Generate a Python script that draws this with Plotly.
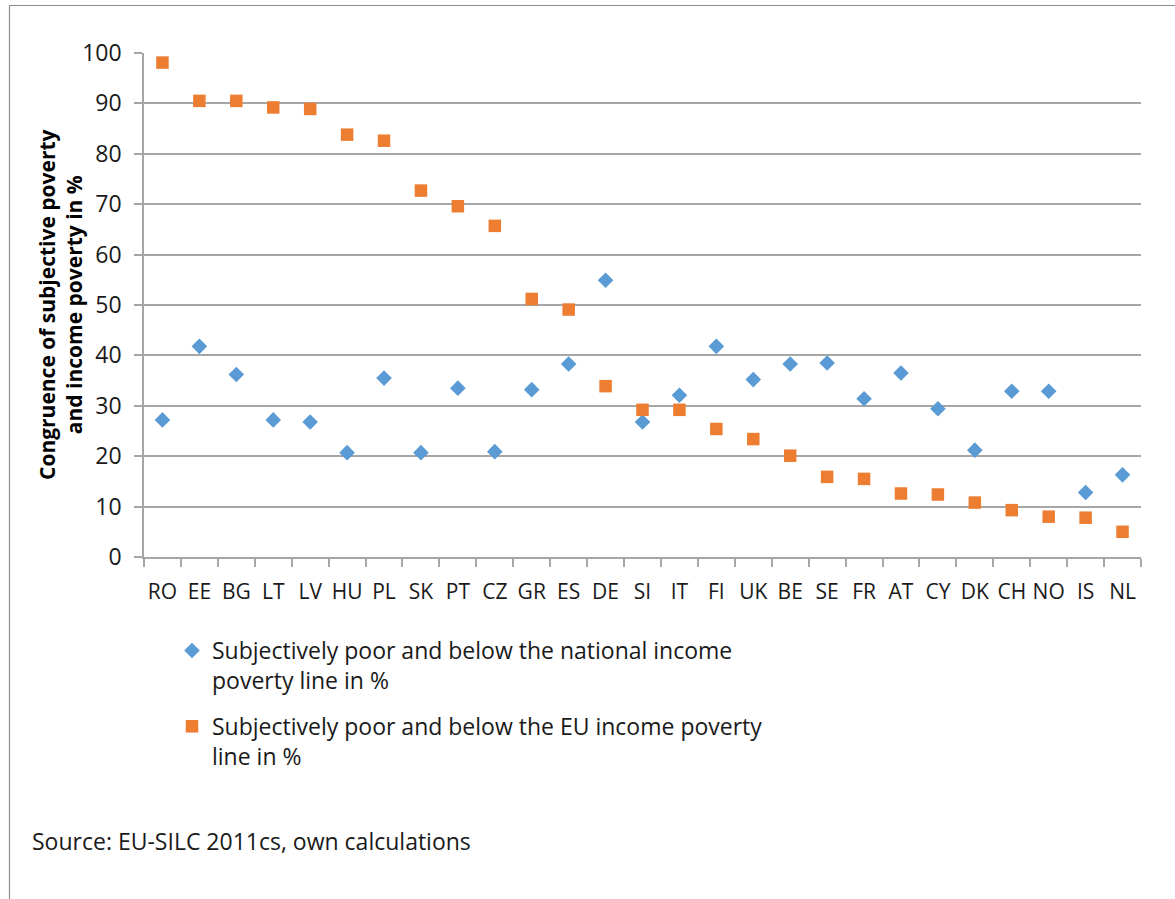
import plotly.graph_objects as go

countries = ["RO", "EE", "BG", "LT", "LV", "HU", "PL", "SK", "PT", "CZ", "GR", "ES", "DE", "SI",
             "IT", "FI", "UK", "BE", "SE", "FR", "AT", "CY", "DK", "CH", "NO", "IS", "NL"]
national = [27.2, 41.8, 36.2, 27.2, 26.8, 20.7, 35.5, 20.7, 33.5, 20.9, 33.2, 38.3, 54.9, 26.8,
            32.1, 41.8, 35.2, 38.3, 38.5, 31.4, 36.5, 29.4, 21.2, 32.9, 32.9, 12.8, 16.3]
eu = [98.1, 90.5, 90.5, 89.2, 88.9, 83.8, 82.6, 72.7, 69.6, 65.7, 51.2, 49.1, 33.9, 29.2,
      29.2, 25.4, 23.4, 20.1, 15.9, 15.5, 12.6, 12.4, 10.8, 9.3, 8.0, 7.8, 5.0]
y_ticks = [0, 10, 20, 30, 40, 50, 60, 70, 80, 90, 100]

name_nat = "Subjectively poor and below the national income<br>poverty line in %"
name_eu = "Subjectively poor and below the EU income poverty<br>line in %"
y_title = "Congruence of subjective poverty<br>and income poverty in %"
source = "Source: EU-SILC 2011cs, own calculations"

FONT = "Open Sans"
W, H = 1175, 899
L, R, T, B = 144, 34, 53, 342
pw = W - L - R
ph = H - T - B


def px(x):
    return (x - L) / pw


def py(y):
    return (H - B - y) / ph


fig = go.Figure()
fig.add_trace(go.Scatter(
    x=countries, y=national, mode="markers", name=name_nat, legendgroup="nat",
    marker=dict(symbol="diamond", size=12, color="#5B9BD5"),
))
fig.add_trace(go.Scatter(
    x=countries, y=eu, mode="markers", name=name_eu, legendgroup="eu",
    marker=dict(symbol="square", size=12.5, color="#ED7D31"),
))

fig.update_layout(
    width=W, height=H,
    margin=dict(l=L, r=R, t=T, b=B),
    paper_bgcolor="white", plot_bgcolor="white",
    font=dict(family=FONT, size=20, color="#000000"),
    showlegend=True,
    legend=dict(
        x=px(172), y=py(629), xanchor="left", yanchor="top",
        font=dict(family=FONT, size=23, color="#1a1a1a"),
        valign="top", tracegroupgap=13, itemwidth=30,
        bgcolor="rgba(0,0,0,0)",
    ),
    xaxis=dict(
        type="category", range=[-0.5, len(countries) - 0.5],
        showgrid=False, showline=True, linecolor="#A6A6A6", linewidth=1.5,
        ticks="outside", tickson="boundaries", ticklen=8, tickcolor="#A6A6A6", tickwidth=1.5,
        tickfont=dict(family=FONT, size=21, color="#1a1a1a"), tickangle=0,
        ticklabelstandoff=15, fixedrange=True,
    ),
    yaxis=dict(
        range=[0, 100], tickvals=y_ticks,
        showgrid=True, gridcolor="#A6A6A6", gridwidth=1.5,
        showline=True, linecolor="#A6A6A6", linewidth=1.5,
        ticks="outside", ticklen=8, tickcolor="#A6A6A6", tickwidth=1.5,
        tickfont=dict(family=FONT, size=23, color="#1a1a1a"),
        ticklabelstandoff=8, zeroline=False, fixedrange=True,
    ),
    shapes=[dict(
        type="rect", xref="paper", yref="paper",
        x0=px(9.5), x1=px(1185), y0=py(910), y1=py(5.5),
        line=dict(color="#8C8C8C", width=1.2), fillcolor="rgba(0,0,0,0)", layer="below",
    )],
    annotations=[
        dict(text=y_title, xref="paper", yref="paper", x=px(60), y=0.5,
             xanchor="center", yanchor="middle", textangle=-90, showarrow=False,
             font=dict(family=FONT, size=21, color="#000000", weight="bold")),
        dict(text=source, xref="paper", yref="paper", x=px(30), y=py(841),
             xanchor="left", yanchor="middle", showarrow=False,
             font=dict(family=FONT, size=23, color="#1a1a1a")),
    ],
)

fig.write_html("out.html", config={"displayModeBar": False})
